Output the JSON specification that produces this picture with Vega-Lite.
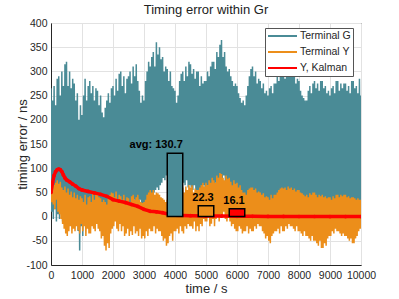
{
"$schema": "https://vega.github.io/schema/vega-lite/v6.json",
"width": 310, "height": 242,
"autosize": {"type": "none"},
"padding": {"left": 51, "top": 23, "right": 38, "bottom": 34},
"title": {"text": "Timing error within Gr", "fontSize": 13, "font": "Liberation Sans", "fontWeight": "normal", "color": "#222222", "offset": 1},
"config": {
  "font": "Liberation Sans",
  "view": {"stroke": "#262626", "strokeWidth": 1},
  "axis": {"domainColor": "#262626", "domainWidth": 1, "labelColor": "#262626", "titleColor": "#262626", "labelFontSize": 10.5, "titleFontSize": 13, "titleFontWeight": "normal", "gridColor": "#e2e2e2", "ticks": false, "labelPadding": 4, "labelFont": "Liberation Sans", "titleFont": "Liberation Sans"},
  "axisX": {"labelOverlap": "parity", "labelSeparation": -30, "labelBound": false, "labelFlush": false, "labelPadding": 5},
  "axisY": {"labelOverlap": "parity", "labelSeparation": -30, "labelBound": false},
  "legend": {"fillColor": "white", "strokeColor": "#555555", "padding": 2, "symbolType": "M-1,0H4.8", "symbolSize": 100, "symbolStrokeWidth": 2, "labelOffset": 21, "labelFontSize": 10.5, "labelColor": "#262626", "labelFont": "Liberation Sans", "rowPadding": 4}
},
"datasets": {
"sig": [
{"t":0,"g":265,"y":50},{"t":25,"g":10,"y":30},{"t":50,"g":240,"y":58},{"t":75,"g":-5,"y":25},{"t":100,"g":270,"y":65},{"t":125,"g":15,"y":15},{"t":150,"g":230,"y":70},{"t":175,"g":-10,"y":35},{"t":200,"g":285,"y":75},{"t":225,"g":5,"y":10},
{"t":250,"g":290,"y":68},{"t":275,"g":-5,"y":5},{"t":300,"g":250,"y":72},{"t":325,"g":10,"y":-5},{"t":350,"g":300,"y":60},{"t":375,"g":-10,"y":-15},{"t":400,"g":270,"y":55},{"t":425,"g":0,"y":-25},{"t":450,"g":315,"y":62},{"t":475,"g":-8,"y":-35},
{"t":500,"g":320,"y":50},{"t":525,"g":-10,"y":-40},{"t":550,"g":270,"y":58},{"t":575,"g":5,"y":-30},{"t":600,"g":300,"y":45},{"t":625,"g":-15,"y":-20},{"t":650,"g":265,"y":52},{"t":675,"g":0,"y":-35},{"t":700,"g":285,"y":40},{"t":725,"g":-20,"y":-25},
{"t":750,"g":275,"y":50},{"t":775,"g":-15,"y":-30},{"t":800,"g":240,"y":38},{"t":825,"g":-5,"y":-20},{"t":850,"g":255,"y":45},{"t":875,"g":-30,"y":-28},{"t":900,"g":200,"y":35},{"t":925,"g":-70,"y":-35},{"t":950,"g":230,"y":42},{"t":975,"g":-20,"y":-15},
{"t":1000,"g":210,"y":38},{"t":1025,"g":-40,"y":-30},{"t":1050,"g":250,"y":30},{"t":1075,"g":-10,"y":-20},{"t":1100,"g":285,"y":45},{"t":1125,"g":0,"y":-40},{"t":1150,"g":240,"y":25},{"t":1175,"g":-15,"y":-25},{"t":1200,"g":270,"y":40},{"t":1225,"g":5,"y":-35},
{"t":1250,"g":280,"y":42},{"t":1275,"g":-10,"y":-35},{"t":1300,"g":255,"y":30},{"t":1325,"g":10,"y":-20},{"t":1350,"g":270,"y":48},{"t":1375,"g":-5,"y":-25},{"t":1400,"g":240,"y":35},{"t":1425,"g":15,"y":-30},{"t":1450,"g":265,"y":50},{"t":1475,"g":0,"y":-15},
{"t":1500,"g":260,"y":45},{"t":1525,"g":5,"y":-25},{"t":1550,"g":230,"y":40},{"t":1575,"g":-10,"y":-30},{"t":1600,"g":250,"y":38},{"t":1625,"g":10,"y":-45},{"t":1650,"g":215,"y":30},{"t":1675,"g":-5,"y":-40},{"t":1700,"g":205,"y":35},{"t":1725,"g":0,"y":-60},
{"t":1750,"g":225,"y":30},{"t":1775,"g":-5,"y":-70},{"t":1800,"g":240,"y":25},{"t":1825,"g":10,"y":-55},{"t":1850,"g":255,"y":40},{"t":1875,"g":0,"y":-65},{"t":1900,"g":235,"y":45},{"t":1925,"g":15,"y":-35},{"t":1950,"g":265,"y":50},{"t":1975,"g":5,"y":-25},
{"t":2000,"g":270,"y":48},{"t":2025,"g":15,"y":-20},{"t":2050,"g":250,"y":40},{"t":2075,"g":5,"y":-10},{"t":2100,"g":285,"y":52},{"t":2125,"g":20,"y":-25},{"t":2150,"g":260,"y":35},{"t":2175,"g":10,"y":-30},{"t":2200,"g":295,"y":45},{"t":2225,"g":15,"y":-15},
{"t":2250,"g":300,"y":42},{"t":2275,"g":10,"y":-30},{"t":2300,"g":270,"y":35},{"t":2325,"g":25,"y":-20},{"t":2350,"g":290,"y":45},{"t":2375,"g":15,"y":-40},{"t":2400,"g":255,"y":30},{"t":2425,"g":20,"y":-35},{"t":2450,"g":285,"y":40},{"t":2475,"g":25,"y":-25},
{"t":2500,"g":290,"y":38},{"t":2525,"g":20,"y":-40},{"t":2550,"g":300,"y":30},{"t":2575,"g":30,"y":-30},{"t":2600,"g":275,"y":42},{"t":2625,"g":25,"y":-38},{"t":2650,"g":310,"y":45},{"t":2675,"g":35,"y":-20},{"t":2700,"g":290,"y":35},{"t":2725,"g":30,"y":-35},
{"t":2750,"g":315,"y":40},{"t":2775,"g":30,"y":-30},{"t":2800,"g":280,"y":45},{"t":2825,"g":25,"y":-40},{"t":2850,"g":260,"y":35},{"t":2875,"g":35,"y":-25},{"t":2900,"g":235,"y":30},{"t":2925,"g":20,"y":-45},{"t":2950,"g":250,"y":28},{"t":2975,"g":25,"y":-40},
{"t":3000,"g":240,"y":30},{"t":3025,"g":20,"y":-45},{"t":3050,"g":280,"y":35},{"t":3075,"g":30,"y":-30},{"t":3100,"g":300,"y":45},{"t":3125,"g":25,"y":-40},{"t":3150,"g":320,"y":50},{"t":3175,"g":40,"y":-25},{"t":3200,"g":310,"y":55},{"t":3225,"g":35,"y":-30},
{"t":3250,"g":330,"y":50},{"t":3275,"g":45,"y":-30},{"t":3300,"g":340,"y":55},{"t":3325,"g":50,"y":-20},{"t":3350,"g":310,"y":45},{"t":3375,"g":55,"y":-35},{"t":3400,"g":360,"y":50},{"t":3425,"g":60,"y":-25},{"t":3450,"g":335,"y":48},{"t":3475,"g":55,"y":-30},
{"t":3500,"g":350,"y":45},{"t":3525,"g":65,"y":-30},{"t":3550,"g":325,"y":40},{"t":3575,"g":70,"y":-40},{"t":3600,"g":330,"y":38},{"t":3625,"g":80,"y":-50},{"t":3650,"g":300,"y":35},{"t":3675,"g":75,"y":-45},{"t":3700,"g":310,"y":30},{"t":3725,"g":85,"y":-60},
{"t":3750,"g":305,"y":35},{"t":3775,"g":80,"y":-55},{"t":3800,"g":280,"y":30},{"t":3825,"g":85,"y":-40},{"t":3850,"g":300,"y":40},{"t":3875,"g":75,"y":-35},{"t":3900,"g":270,"y":35},{"t":3925,"g":90,"y":-50},{"t":3950,"g":265,"y":38},{"t":3975,"g":80,"y":-30},
{"t":4000,"g":260,"y":40},{"t":4025,"g":85,"y":-30},{"t":4050,"g":235,"y":35},{"t":4075,"g":75,"y":-25},{"t":4100,"g":250,"y":45},{"t":4125,"g":80,"y":-35},{"t":4150,"g":280,"y":50},{"t":4175,"g":70,"y":-20},{"t":4200,"g":295,"y":55},{"t":4225,"g":75,"y":-30},
{"t":4250,"g":300,"y":60},{"t":4275,"g":70,"y":-35},{"t":4300,"g":280,"y":50},{"t":4325,"g":65,"y":-20},{"t":4350,"g":310,"y":62},{"t":4375,"g":75,"y":-25},{"t":4400,"g":290,"y":55},{"t":4425,"g":60,"y":-15},{"t":4450,"g":320,"y":65},{"t":4475,"g":65,"y":-20},
{"t":4500,"g":315,"y":60},{"t":4525,"g":60,"y":-20},{"t":4550,"g":295,"y":65},{"t":4575,"g":55,"y":-25},{"t":4600,"g":305,"y":50},{"t":4625,"g":65,"y":-10},{"t":4650,"g":285,"y":58},{"t":4675,"g":50,"y":-30},{"t":4700,"g":300,"y":55},{"t":4725,"g":55,"y":-20},
{"t":4750,"g":300,"y":55},{"t":4775,"g":50,"y":-30},{"t":4800,"g":270,"y":60},{"t":4825,"g":55,"y":-15},{"t":4850,"g":290,"y":65},{"t":4875,"g":60,"y":-20},{"t":4900,"g":275,"y":70},{"t":4925,"g":65,"y":-5},{"t":4950,"g":280,"y":62},{"t":4975,"g":55,"y":-10},
{"t":5000,"g":280,"y":70},{"t":5025,"g":60,"y":-10},{"t":5050,"g":300,"y":65},{"t":5075,"g":65,"y":0},{"t":5100,"g":290,"y":75},{"t":5125,"g":55,"y":-20},{"t":5150,"g":310,"y":70},{"t":5175,"g":60,"y":-15},{"t":5200,"g":320,"y":80},{"t":5225,"g":65,"y":-5},
{"t":5250,"g":320,"y":75},{"t":5275,"g":60,"y":-20},{"t":5300,"g":305,"y":70},{"t":5325,"g":70,"y":-5},{"t":5350,"g":340,"y":85},{"t":5375,"g":75,"y":0},{"t":5400,"g":330,"y":80},{"t":5425,"g":80,"y":-10},{"t":5450,"g":355,"y":90},{"t":5475,"g":85,"y":5},
{"t":5500,"g":365,"y":88},{"t":5525,"g":80,"y":0},{"t":5550,"g":330,"y":80},{"t":5575,"g":85,"y":10},{"t":5600,"g":340,"y":75},{"t":5625,"g":70,"y":-5},{"t":5650,"g":310,"y":85},{"t":5675,"g":65,"y":-10},{"t":5700,"g":300,"y":78},{"t":5725,"g":60,"y":0},
{"t":5750,"g":305,"y":80},{"t":5775,"g":60,"y":-10},{"t":5800,"g":290,"y":72},{"t":5825,"g":55,"y":-20},{"t":5850,"g":280,"y":65},{"t":5875,"g":50,"y":-15},{"t":5900,"g":270,"y":75},{"t":5925,"g":45,"y":-25},{"t":5950,"g":275,"y":68},{"t":5975,"g":40,"y":-30},
{"t":6000,"g":270,"y":70},{"t":6025,"g":40,"y":-30},{"t":6050,"g":255,"y":60},{"t":6075,"g":35,"y":-20},{"t":6100,"g":245,"y":65},{"t":6125,"g":30,"y":-25},{"t":6150,"g":235,"y":55},{"t":6175,"g":35,"y":-35},{"t":6200,"g":240,"y":50},{"t":6225,"g":30,"y":-30},
{"t":6250,"g":230,"y":50},{"t":6275,"g":30,"y":-30},{"t":6300,"g":250,"y":45},{"t":6325,"g":35,"y":-20},{"t":6350,"g":270,"y":55},{"t":6375,"g":25,"y":-35},{"t":6400,"g":290,"y":58},{"t":6425,"g":40,"y":-25},{"t":6450,"g":305,"y":60},{"t":6475,"g":35,"y":-30},
{"t":6500,"g":310,"y":60},{"t":6525,"g":40,"y":-30},{"t":6550,"g":290,"y":55},{"t":6575,"g":35,"y":-20},{"t":6600,"g":300,"y":58},{"t":6625,"g":30,"y":-25},{"t":6650,"g":275,"y":50},{"t":6675,"g":35,"y":-15},{"t":6700,"g":285,"y":52},{"t":6725,"g":30,"y":-20},
{"t":6750,"g":280,"y":50},{"t":6775,"g":30,"y":-20},{"t":6800,"g":265,"y":45},{"t":6825,"g":25,"y":-30},{"t":6850,"g":275,"y":48},{"t":6875,"g":20,"y":-35},{"t":6900,"g":255,"y":40},{"t":6925,"g":25,"y":-45},{"t":6950,"g":260,"y":42},{"t":6975,"g":20,"y":-40},
{"t":7000,"g":250,"y":40},{"t":7025,"g":20,"y":-50},{"t":7050,"g":265,"y":35},{"t":7075,"g":25,"y":-55},{"t":7100,"g":270,"y":45},{"t":7125,"g":30,"y":-40},{"t":7150,"g":255,"y":38},{"t":7175,"g":25,"y":-35},{"t":7200,"g":275,"y":45},{"t":7225,"g":30,"y":-30},
{"t":7250,"g":275,"y":45},{"t":7275,"g":30,"y":-30},{"t":7300,"g":290,"y":50},{"t":7325,"g":35,"y":-25},{"t":7350,"g":280,"y":55},{"t":7375,"g":40,"y":-35},{"t":7400,"g":295,"y":58},{"t":7425,"g":35,"y":-20},{"t":7450,"g":300,"y":60},{"t":7475,"g":40,"y":-30},
{"t":7500,"g":300,"y":58},{"t":7525,"g":40,"y":-30},{"t":7550,"g":285,"y":60},{"t":7575,"g":45,"y":-20},{"t":7600,"g":310,"y":55},{"t":7625,"g":40,"y":-25},{"t":7650,"g":295,"y":62},{"t":7675,"g":35,"y":-15},{"t":7700,"g":310,"y":58},{"t":7725,"g":40,"y":-20},
{"t":7750,"g":310,"y":60},{"t":7775,"g":40,"y":-20},{"t":7800,"g":300,"y":55},{"t":7825,"g":35,"y":-25},{"t":7850,"g":290,"y":58},{"t":7875,"g":30,"y":-30},{"t":7900,"g":275,"y":52},{"t":7925,"g":35,"y":-20},{"t":7950,"g":285,"y":55},{"t":7975,"g":30,"y":-30},
{"t":8000,"g":280,"y":55},{"t":8025,"g":30,"y":-30},{"t":8050,"g":260,"y":50},{"t":8075,"g":35,"y":-35},{"t":8100,"g":250,"y":48},{"t":8125,"g":25,"y":-40},{"t":8150,"g":245,"y":45},{"t":8175,"g":30,"y":-30},{"t":8200,"g":240,"y":42},{"t":8225,"g":25,"y":-40},
{"t":8250,"g":240,"y":45},{"t":8275,"g":30,"y":-40},{"t":8300,"g":260,"y":40},{"t":8325,"g":25,"y":-45},{"t":8350,"g":270,"y":48},{"t":8375,"g":30,"y":-50},{"t":8400,"g":255,"y":45},{"t":8425,"g":35,"y":-40},{"t":8450,"g":275,"y":50},{"t":8475,"g":30,"y":-50},
{"t":8500,"g":280,"y":50},{"t":8525,"g":30,"y":-50},{"t":8550,"g":265,"y":45},{"t":8575,"g":25,"y":-55},{"t":8600,"g":275,"y":40},{"t":8625,"g":20,"y":-60},{"t":8650,"g":260,"y":45},{"t":8675,"g":25,"y":-50},{"t":8700,"g":280,"y":42},{"t":8725,"g":20,"y":-65},
{"t":8750,"g":280,"y":45},{"t":8775,"g":20,"y":-65},{"t":8800,"g":265,"y":40},{"t":8825,"g":25,"y":-55},{"t":8850,"g":270,"y":42},{"t":8875,"g":15,"y":-60},{"t":8900,"g":255,"y":38},{"t":8925,"g":20,"y":-45},{"t":8950,"g":260,"y":40},{"t":8975,"g":25,"y":-40},
{"t":9000,"g":250,"y":40},{"t":9025,"g":20,"y":-40},{"t":9050,"g":265,"y":35},{"t":9075,"g":25,"y":-30},{"t":9100,"g":270,"y":42},{"t":9125,"g":20,"y":-35},{"t":9150,"g":255,"y":38},{"t":9175,"g":15,"y":-25},{"t":9200,"g":280,"y":45},{"t":9225,"g":20,"y":-30},
{"t":9250,"g":280,"y":45},{"t":9275,"g":20,"y":-30},{"t":9300,"g":260,"y":40},{"t":9325,"g":25,"y":-35},{"t":9350,"g":275,"y":45},{"t":9375,"g":20,"y":-40},{"t":9400,"g":265,"y":42},{"t":9425,"g":15,"y":-35},{"t":9450,"g":275,"y":45},{"t":9475,"g":20,"y":-40},
{"t":9500,"g":275,"y":45},{"t":9525,"g":20,"y":-40},{"t":9550,"g":260,"y":40},{"t":9575,"g":25,"y":-45},{"t":9600,"g":270,"y":42},{"t":9625,"g":20,"y":-50},{"t":9650,"g":255,"y":38},{"t":9675,"g":15,"y":-45},{"t":9700,"g":280,"y":40},{"t":9725,"g":20,"y":-55},
{"t":9750,"g":280,"y":40},{"t":9775,"g":20,"y":-55},{"t":9800,"g":265,"y":38},{"t":9825,"g":25,"y":-45},{"t":9850,"g":270,"y":35},{"t":9875,"g":20,"y":-40},{"t":9900,"g":255,"y":38},{"t":9925,"g":25,"y":-30},{"t":9950,"g":285,"y":35},{"t":9975,"g":20,"y":-25},
{"t":10000,"g":250,"y":35}
],
"kal": [
{"t":0,"k":50},{"t":50,"k":70},{"t":100,"k":85},{"t":150,"k":93},{"t":200,"k":97},{"t":250,"k":98},{"t":300,"k":97},{"t":350,"k":93},{"t":400,"k":86},{"t":450,"k":80},{"t":500,"k":76},{"t":600,"k":72},{"t":700,"k":67},{"t":800,"k":63},{"t":900,"k":58},{"t":1000,"k":55},{"t":1200,"k":52},{"t":1400,"k":49},{"t":1600,"k":46},{"t":1800,"k":42},{"t":2000,"k":35},{"t":2200,"k":32},{"t":2400,"k":29},{"t":2600,"k":25},{"t":2800,"k":21},{"t":3000,"k":15},{"t":3200,"k":11},{"t":3400,"k":10},{"t":3600,"k":8},{"t":3800,"k":5},{"t":4000,"k":3},{"t":4500,"k":2},{"t":5000,"k":1},{"t":5500,"k":1},{"t":6000,"k":0.5},{"t":6500,"k":0.5},{"t":7000,"k":0.3},{"t":7500,"k":0.3},{"t":8000,"k":0.2},{"t":8500,"k":0.2},{"t":9000,"k":0.1},{"t":9500,"k":0.1},{"t":10000,"k":0}
],
"bars": [
{"s":"g","t0":3750,"t1":4250,"v":130.7,"lab":"avg: 130.7"},
{"s":"y","t0":4750,"t1":5250,"v":22.3,"lab":"22.3"},
{"s":"k","t0":5750,"t1":6250,"v":16.1,"lab":"16.1"}
]
},
"encoding": {
  "x": {"type": "quantitative", "title": "time / s", "scale": {"domain": [0, 10000], "nice": false}, "axis": {"values": [0,1000,2000,3000,4000,5000,6000,7000,8000,9000,10000], "grid": true, "titlePadding": 2, "format": "d"}},
  "y": {"type": "quantitative", "title": "timing error / ns", "scale": {"domain": [-100, 400], "nice": false}, "axis": {"values": [-100,-50,0,50,100,150,200,250,300,350,400], "grid": true, "titlePadding": -4, "labelExpr": "datum.value + ''"}}
},
"layer": [
{"data": {"name": "sig"}, "transform": [{"fold": ["g"], "as": ["s", "v"]}], "mark": {"type": "line", "strokeWidth": 1.5, "clip": true},
 "encoding": {
  "x": {"field": "t"},
  "y": {"field": "v"},
  "color": {"field": "s", "type": "nominal", "scale": {"domain": ["g", "y", "k"], "range": ["#4a8b96", "#ec8e1a", "#ff0000"]}, "legend": {"title": null, "orient": "none", "legendX": 214, "legendY": 5, "labelExpr": "datum.label == 'g' ? 'Terminal G' : datum.label == 'y' ? 'Terminal Y' : 'Y, Kalman'"}}
 }},
{"data": {"name": "sig"}, "transform": [{"fold": ["y"], "as": ["s", "v"]}], "mark": {"type": "line", "strokeWidth": 1.5, "clip": true},
 "encoding": {
  "x": {"field": "t"},
  "y": {"field": "v"},
  "color": {"field": "s", "type": "nominal"}
 }},
{"data": {"name": "kal"}, "transform": [{"fold": ["k"], "as": ["s", "v"]}], "mark": {"type": "line", "strokeWidth": 3.5, "clip": true, "point": {"filled": true, "size": 14}},
 "encoding": {
  "x": {"field": "t"},
  "y": {"field": "v"},
  "color": {"field": "s", "type": "nominal"}
 }},
{"data": {"name": "bars"}, "mark": {"type": "rect", "stroke": "black", "strokeWidth": 1.5},
 "encoding": {
  "x": {"field": "t0"},
  "x2": {"field": "t1"},
  "y": {"field": "v"},
  "y2": {"datum": 0},
  "fill": {"field": "s", "type": "nominal", "legend": null, "scale": {"domain": ["g", "y", "k"], "range": ["#4a8b96", "#ec8e1a", "#ff0000"]}}
 }},
{"data": {"name": "bars"}, "mark": {"type": "text", "align": "right", "baseline": "bottom", "dy": -3, "fontWeight": "bold", "fontSize": 11, "color": "black", "font": "Liberation Sans"},
 "encoding": {
  "x": {"field": "t1"},
  "y": {"field": "v"},
  "text": {"field": "lab"}
 }}
]
}
